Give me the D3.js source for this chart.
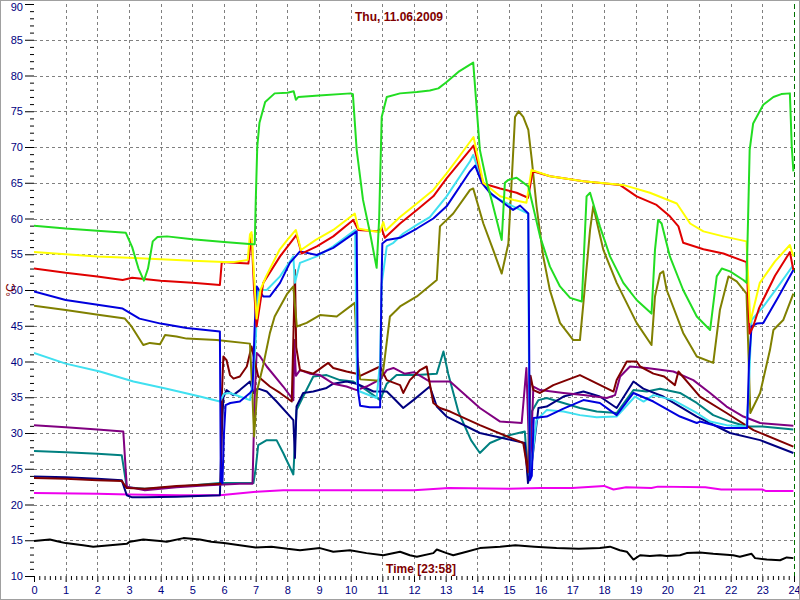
<!DOCTYPE html>
<html><head><meta charset="utf-8">
<script src="https://cdn.jsdelivr.net/npm/d3@7"></script>
<style>html,body{margin:0;padding:0;background:#fff;}svg{display:block;}</style>
</head><body>
<script>
const title = "Thu, 11.06.2009";
const xLabel = "Time [23:58]";
const yLabel = "°C";
const xTicks = d3.range(0, 25, 1);
const yTicks = d3.range(10, 91, 5);

const green = [[0,59.0],[1,58.6],[2,58.3],[2.9,58.0],[3.1,56],[3.3,53],[3.47,51.3],[3.6,53],[3.75,56.8],[3.9,57.4],[4.2,57.5],[5,57.1],[6,56.7],[6.9,56.4],[6.97,56.4],[7.0,62],[7.05,70],[7.12,73.4],[7.3,76.3],[7.6,77.5],[8.0,77.6],[8.2,77.8],[8.27,76.6],[8.35,77.0],[9,77.2],[10.0,77.5],[10.07,77.4],[10.19,69.6],[10.39,62.6],[10.61,58],[10.82,53.1],[10.9,60],[10.98,74.2],[11.14,77],[11.56,77.5],[12.09,77.7],[12.5,77.9],[12.77,78.2],[13.03,79.1],[13.4,80.5],[13.87,81.8],[14.08,69.6],[14.3,65],[14.45,62.6],[14.77,57],[14.87,65],[14.98,65.4],[15.24,65.7],[15.61,64.5],[15.98,57.5],[16.29,53.3],[16.61,50.5],[16.93,48.9],[17.3,48.4],[17.35,53.3],[17.45,63.1],[17.56,63.6],[17.87,58.9],[18.19,54.7],[18.61,51],[19.03,48.6],[19.5,46.7],[19.61,55.6],[19.71,59.8],[19.82,59.3],[20.08,54.7],[20.5,50],[20.93,46.3],[21.35,44.4],[21.56,51.9],[21.72,53],[21.98,52.6],[22.4,51.4],[22.5,51.0],[22.55,60],[22.6,69.6],[22.71,73.3],[23.03,75.9],[23.35,77],[23.6,77.4],[23.87,77.5],[23.93,70],[23.98,66.6]];

const yellow = [[0,55.3],[1,55.0],[2,54.7],[3,54.5],[4,54.3],[5,54.1],[6.0,53.9],[6.3,53.9],[6.75,54.2],[6.82,57.8],[6.87,58.1],[6.95,52],[7.03,46],[7.15,50],[7.33,51.9],[7.75,55.6],[8.0,57],[8.27,58.4],[8.43,55.6],[8.9,57],[9.45,58.4],[10.13,60.7],[10.24,58.6],[10.6,58.3],[10.92,58.1],[11.03,59.5],[11.1,58.3],[11.56,60.2],[12.09,62.1],[12.61,64],[13.03,66.3],[13.4,68.5],[13.88,71.4],[14.19,65],[14.72,63.1],[15.15,62.6],[15.55,62.2],[15.71,66.8],[16.3,65.9],[17.35,65.2],[18.6,64.7],[19.45,63.6],[20.3,62.1],[20.72,59.3],[21.14,58.2],[21.77,57.5],[22.5,56.8],[22.55,52],[22.62,45.5],[22.7,47],[22.92,51],[23.4,54],[23.87,56.3],[23.98,54.7]];

const red = [[0,53.0],[1,52.4],[2,51.9],[2.8,51.4],[3.1,51.7],[4,51.3],[5,51.0],[5.87,50.7],[5.93,53.9],[6.77,53.7],[6.87,57.7],[6.95,50],[7.03,44.9],[7.24,51],[7.77,54.7],[8.29,57.7],[8.45,55.1],[8.93,56.1],[9.45,57.5],[10.08,59.8],[10.24,58.4],[10.82,58.2],[10.98,58.6],[11.08,57.3],[11.56,59.3],[12.09,61.2],[12.61,63.1],[13.03,65.6],[13.77,69.6],[13.88,70.2],[14.19,64.9],[14.72,64.2],[15.24,63.6],[15.6,62.9],[15.75,66.6],[16.3,65.9],[17.35,65.2],[18.5,64.7],[19.03,63.1],[19.66,61.9],[20.08,60.3],[20.35,58.9],[20.5,56.6],[21.14,55.7],[21.77,55.1],[22.5,53.9],[22.6,43.9],[22.71,44.9],[22.9,47.5],[23.4,52],[23.87,55.3],[23.98,52.8]];

const blue = [[0,49.8],[1,48.6],[2.8,47.4],[3.33,46.0],[4,45.3],[4.82,44.7],[5.87,44.2],[5.9,23.2],[5.95,23],[6.0,30],[6.05,33.9],[6.2,34.2],[6.5,34.4],[6.82,35.6],[6.9,36],[6.97,45],[7.03,50.5],[7.24,49.1],[7.45,49.1],[7.77,51],[8.08,53.8],[8.4,55.4],[8.93,54.9],[9.45,55.9],[10.19,58.2],[10.23,36],[10.3,33.8],[10.6,33.6],[10.93,33.6],[10.97,50],[11.0,56.5],[11.14,57],[11.56,57.3],[12.09,58.6],[12.61,60],[13.03,61.7],[13.77,66.6],[13.93,67.4],[14.14,65],[14.4,63.6],[14.82,62.2],[15.13,61.2],[15.35,61.8],[15.61,60.7],[15.64,40],[15.66,23.4],[15.72,24],[15.78,32.1],[16.19,32.3],[16.72,33.4],[17.35,34.6],[17.87,34.2],[18.4,32.5],[18.93,35.6],[19.56,34.4],[20.4,32.3],[20.93,31.4],[21.03,31.6],[21.8,30.7],[22.52,30.7],[22.58,40],[22.66,44.9],[22.82,45.3],[23.03,45.4],[23.5,49],[23.98,52.8]];

const cyan = [[0,41.2],[1,39.7],[2.08,38.6],[3.14,37.2],[4.19,36.2],[5.24,35.1],[5.87,34.4],[6.0,35.5],[6.19,35.6],[6.5,35.1],[6.82,34.6],[6.93,38],[7.0,43],[7.08,50],[7.35,50],[7.77,51.9],[8.19,54.7],[8.24,51],[8.4,53.8],[8.93,54.7],[9.45,56.1],[10.14,58.4],[10.2,37],[10.29,35.8],[10.82,34.9],[10.93,40],[10.98,50.9],[11.14,56.1],[11.35,56.6],[11.66,57.9],[12.09,59.1],[12.5,60.2],[13.03,63.1],[13.77,68],[13.87,68.9],[14.14,65.4],[14.5,63.1],[15.13,61.7],[15.6,60.7],[15.63,40],[15.66,24],[15.72,26],[15.87,31.8],[16.19,33.2],[16.72,33],[17.24,32.5],[17.77,32.2],[18.4,32.3],[18.98,35.1],[19.25,34.4],[19.56,35.3],[20.19,34.6],[20.93,32.8],[21.35,31.6],[21.87,31.1],[22.5,30.9],[22.56,35],[22.66,45.8],[23.0,47.5],[23.5,50.5],[23.98,53.5]];

const olive = [[0,47.8],[1,47.2],[2.08,46.5],[2.87,46.0],[3.08,44.9],[3.45,42.3],[3.66,42.6],[3.98,42.4],[4.14,43.7],[4.5,43.5],[4.82,43.2],[5.77,43.0],[6.82,42.5],[6.9,35],[6.95,29.5],[7.05,36],[7.24,39.5],[7.45,44],[7.6,46.3],[8.0,49.5],[8.19,50.5],[8.3,44.9],[8.61,45.4],[9.03,46.5],[9.56,46.3],[10.13,48.2],[10.2,40.7],[10.3,37.5],[10.93,37.3],[11.03,38.8],[11.24,46.3],[11.45,47.2],[11.56,47.7],[12.09,49.1],[12.72,51.4],[12.82,58.9],[13.24,60.7],[13.77,64],[13.87,64.2],[14.19,59.3],[14.5,55.6],[14.77,52.3],[14.98,56.5],[15.08,64.9],[15.19,74.2],[15.3,75],[15.45,74.2],[15.61,72.4],[15.72,68.2],[15.87,61.7],[16.08,54.7],[16.29,50],[16.61,45.4],[17.03,43],[17.24,43],[17.35,48.2],[17.56,58.4],[17.66,61.7],[17.98,55.6],[18.4,51],[19.03,45.4],[19.5,42.3],[19.61,49.1],[19.77,52.3],[19.87,52.6],[19.98,50],[20.5,44],[20.93,40.7],[21.45,39.8],[21.66,47.2],[21.93,51.9],[22.19,51.2],[22.5,49.5],[22.57,40],[22.62,32.8],[22.93,35.6],[23.24,41.6],[23.35,44.4],[23.66,45.8],[23.98,49.5]];

const maroon = [[0,23.7],[1,23.6],[2,23.4],[2.77,23.3],[2.93,22.3],[3.5,22.2],[4.5,22.6],[5.5,22.8],[5.9,22.9],[5.93,35],[5.98,40.7],[6.08,40.2],[6.19,38.1],[6.3,37.6],[6.5,37.9],[6.72,39.3],[6.87,42.1],[7.08,37.9],[7.45,36.5],[7.77,35.6],[8.14,34.4],[8.2,45],[8.24,52.8],[8.28,42],[8.4,38.8],[8.82,38.3],[9.29,39.8],[9.45,39.1],[9.87,38.6],[10.19,38.3],[10.3,38],[10.93,39.3],[11.14,37.4],[11.56,36.7],[11.66,35.6],[11.87,37.4],[12.19,38.8],[12.4,39.3],[12.61,34.2],[12.82,33.5],[13.14,33],[14.08,31.1],[15.45,28.6],[15.6,24.5],[15.68,38],[15.77,36.0],[15.98,35.6],[16.4,36.7],[17.24,38.1],[18.3,35.8],[18.4,37.4],[18.72,40],[19.03,40],[19.14,39.3],[19.56,38.3],[19.9,37.9],[20.24,36.7],[20.35,38.6],[21.03,35.1],[21.87,32.8],[22.72,30.4],[23.98,28.1]];

const purple = [[0,31.1],[1,30.8],[2,30.5],[2.82,30.2],[2.93,22.5],[3.5,22.0],[4.5,22.4],[5.5,22.7],[6.5,22.9],[6.9,22.9],[6.97,35],[7.03,41.2],[7.14,40.7],[7.35,39.3],[7.87,36.5],[8.19,34.6],[8.22,43],[8.27,38],[8.4,38.8],[8.71,38.3],[9.03,38.1],[9.45,36.9],[9.87,36.5],[10.19,36],[10.5,36.5],[10.93,37.5],[11.14,38.8],[11.35,39.1],[11.7,38.3],[12.0,38.5],[12.5,37.2],[13.14,37.2],[14.08,33.5],[14.72,31.6],[15.4,31.4],[15.55,39.1],[15.66,23.9],[15.77,36.5],[15.98,36],[16.72,35.6],[17.35,35.3],[18.09,34.9],[18.35,35.3],[18.51,37.9],[18.82,39.3],[19.35,39.1],[20.19,38.6],[20.82,37.4],[21.35,35.6],[21.87,33.7],[22.4,32.3],[22.93,31.4],[23.98,31]];

const teal = [[0,27.5],[1,27.3],[2,27.1],[2.77,26.9],[2.93,22.4],[3.5,22.2],[4.5,22.5],[5.87,23],[6.5,23],[6.93,23],[7.0,25],[7.08,28.3],[7.35,29],[7.66,29],[7.87,27.2],[8.19,24.2],[8.29,33.2],[8.5,35.1],[8.82,37.9],[9.24,38.1],[9.66,37.4],[10.08,37.2],[10.5,36],[10.93,34.6],[11.14,36.9],[11.45,38.1],[12.08,38.1],[12.72,38.3],[12.93,41.4],[13.08,38.3],[13.4,33],[13.8,29],[14.08,27.2],[14.4,28.6],[14.93,29.6],[15.5,30.2],[15.6,24],[15.72,33],[15.93,34.6],[16.19,34.9],[16.72,34.2],[17.24,33.5],[17.77,33],[18.4,32.8],[18.93,36],[19.35,35.8],[19.77,36.2],[20.4,35.6],[20.93,34.2],[21.45,32.5],[21.98,31.6],[22.5,30.9],[23,30.9],[23.98,30.5]];

const navy = [[0,23.9],[1,23.8],[2,23.6],[2.77,23.4],[2.93,21.3],[3.1,21.0],[3.5,21.0],[4.5,21.1],[5.87,21.3],[5.93,30],[5.98,35],[6.08,36],[6.29,35.3],[6.5,36],[6.82,37.2],[6.93,35.6],[7.08,36.2],[7.35,35.8],[7.66,34.4],[8.19,31.8],[8.24,26.5],[8.29,33.7],[8.5,35.6],[8.82,35.8],[9.24,36.3],[9.45,36.9],[9.87,37.2],[10.19,36.9],[10.72,35.8],[11.14,35.8],[11.35,34.9],[11.66,33.5],[11.98,34.6],[12.5,36.5],[12.72,33.7],[13.03,32.3],[14.08,30],[15.5,28.6],[15.6,23],[15.7,25],[15.93,33.5],[16.19,33.7],[16.72,35.1],[17.35,35.8],[17.87,35.1],[18.4,33.5],[18.93,37.2],[19.24,36.2],[19.87,35.1],[20.93,32.3],[21.98,30],[22.93,29],[23.98,27.2]];

const magenta = [[0,21.6],[2,21.5],[3,21.4],[4.6,21.3],[5.87,21.3],[7.03,21.8],[7.87,22.0],[10,22.0],[12,22.0],[13.1,22.3],[15,22.2],[16,22.3],[17,22.3],[18,22.6],[18.3,22.1],[18.7,22.4],[19.5,22.3],[19.7,22.5],[21.2,22.4],[21.7,22.1],[23.0,22.1],[23.1,21.9],[23.98,21.9]];

const black = [[0,14.9],[0.5,15.1],[0.8,14.8],[1,14.6],[1.55,14.3],[1.87,14.1],[2.4,14.3],[2.93,14.5],[3.03,14.8],[3.45,15.1],[3.98,14.9],[4.19,14.8],[4.72,15.3],[5.24,15.1],[5.6,14.8],[6.0,14.6],[6.5,14.3],[7,14.0],[7.5,14.1],[8,13.8],[8.4,13.6],[9.03,13.9],[9.45,13.4],[9.98,13.6],[10.5,13.2],[11.03,12.9],[11.56,13.4],[11.87,12.9],[12.09,12.7],[12.61,13.2],[12.72,13.7],[13.03,13.2],[13.24,12.9],[13.66,13.4],[14.08,13.9],[14.72,14.1],[15.2,14.3],[15.8,14.1],[16.5,13.9],[17.2,13.8],[17.87,13.9],[18.19,14.1],[18.5,13.6],[18.72,13.4],[18.93,12.3],[19.14,12.9],[19.45,12.8],[19.77,12.9],[19.98,12.8],[20.4,12.9],[20.61,13.2],[21.03,13.3],[21.45,13.1],[22.08,12.9],[22.29,12.7],[22.66,13.1],[22.77,12.5],[23.14,12.3],[23.56,12.2],[23.77,12.6],[23.98,12.5]];

const seriesList = [
  {data: magenta, color: "#ee00ee"},
  {data: black, color: "#000000"},
  {data: teal, color: "#008080"},
  {data: navy, color: "#000080"},
  {data: purple, color: "#800080"},
  {data: maroon, color: "#800000"},
  {data: olive, color: "#808000"},
  {data: cyan, color: "#40e0f0"},
  {data: blue, color: "#0000dd"},
  {data: red, color: "#e00000"},
  {data: yellow, color: "#ffff00"},
  {data: green, color: "#22dd22"}
];

const W = 800, H = 600;
const svg = d3.select("body").append("svg").attr("width", W).attr("height", H);
const x = d3.scaleLinear().domain([0, 24]).range([34, 794]);
const y = d3.scaleLinear().domain([10, 90]).range([576, 4]);

svg.append("rect").attr("x",0).attr("y",0).attr("width",W).attr("height",H).attr("fill","#fff");

// grid
const grid = svg.append("g").attr("stroke","#808080").attr("stroke-width",1).attr("stroke-dasharray","3,3");
grid.selectAll("line.h").data(yTicks.filter(v => v > 10 && v < 90)).join("line")
  .attr("x1", x(0)).attr("x2", x(24)).attr("y1", d => Math.round(y(d)) + 0.5).attr("y2", d => Math.round(y(d)) + 0.5);
grid.selectAll("line.v").data(xTicks.filter(v => v > 0 && v < 24)).join("line")
  .attr("y1", y(90)).attr("y2", y(10)).attr("x1", d => Math.round(x(d)) + 0.5).attr("x2", d => Math.round(x(d)) + 0.5);

// current-time marker
svg.append("line").attr("x1", Math.round(x(24)) + 0.5).attr("x2", Math.round(x(24)) + 0.5)
  .attr("y1", y(90)).attr("y2", y(10)).attr("stroke","#007000").attr("stroke-dasharray","5,3");

// axes
const yAxis = d3.axisLeft(y).tickValues(yTicks).tickSize(9).tickPadding(2);
const gy = svg.append("g").attr("transform", "translate(34,0)").call(yAxis);
gy.select(".domain").remove();
gy.selectAll("text").attr("font-family","Liberation Sans, Arial, sans-serif").attr("font-size","11px").attr("fill","#000080")
  .attr("dy", d => d === 90 ? "0.55em" : "0.32em");
const yMinor = d3.axisLeft(y).tickValues(d3.range(10, 91, 1).filter(v => v % 5 !== 0)).tickSize(4).tickFormat("");
const gym = svg.append("g").attr("transform", "translate(34,0)").call(yMinor);
gym.select(".domain").remove();

const xAxis = d3.axisBottom(x).tickValues(xTicks).tickSize(6).tickPadding(4);
const gx = svg.append("g").attr("transform", "translate(0,576)").call(xAxis);
gx.select(".domain").remove();
gx.selectAll("text").attr("font-family","Liberation Sans, Arial, sans-serif").attr("font-size","11px").attr("fill","#000080");
const xMinor = d3.axisBottom(x).tickValues(d3.range(0, 144).map(i => i / 6).filter((v, i) => i % 6 !== 0)).tickSize(4).tickFormat("");
const gxm = svg.append("g").attr("transform", "translate(0,576)").call(xMinor);
gxm.select(".domain").remove();
svg.selectAll(".tick line").attr("stroke","#000");

// series
svg.append("clipPath").attr("id","clip").append("rect").attr("x",34).attr("y",4).attr("width",761).attr("height",573);
const line = d3.line().x(d => x(d[0])).y(d => y(d[1]));
const gl = svg.append("g").attr("clip-path","url(#clip)");
seriesList.forEach(s => {
  gl.append("path").datum(s.data).attr("d", line).attr("fill","none")
    .attr("stroke", s.color).attr("stroke-width", 2).attr("stroke-linejoin","round");
});

// texts
svg.append("text").attr("x", 399).attr("y", 21).attr("text-anchor","middle")
  .attr("font-family","Liberation Sans, Arial, sans-serif").attr("font-weight","bold").attr("font-size","12px")
  .attr("fill","#800000").text(title);
svg.append("text").attr("x", 421).attr("y", 573).attr("text-anchor","middle")
  .attr("font-family","Liberation Sans, Arial, sans-serif").attr("font-weight","bold").attr("font-size","12px")
  .attr("fill","#800000").text(xLabel);
svg.append("text").attr("transform","translate(15,290) rotate(-90)").attr("text-anchor","middle")
  .attr("font-family","Liberation Sans, Arial, sans-serif").attr("font-size","12px")
  .attr("fill","#800000").text(yLabel);

// frame
svg.append("rect").attr("x",0.5).attr("y",0.5).attr("width",W-1).attr("height",H-1)
  .attr("fill","none").attr("stroke","#a0a0a0");
</script>
</body></html>
